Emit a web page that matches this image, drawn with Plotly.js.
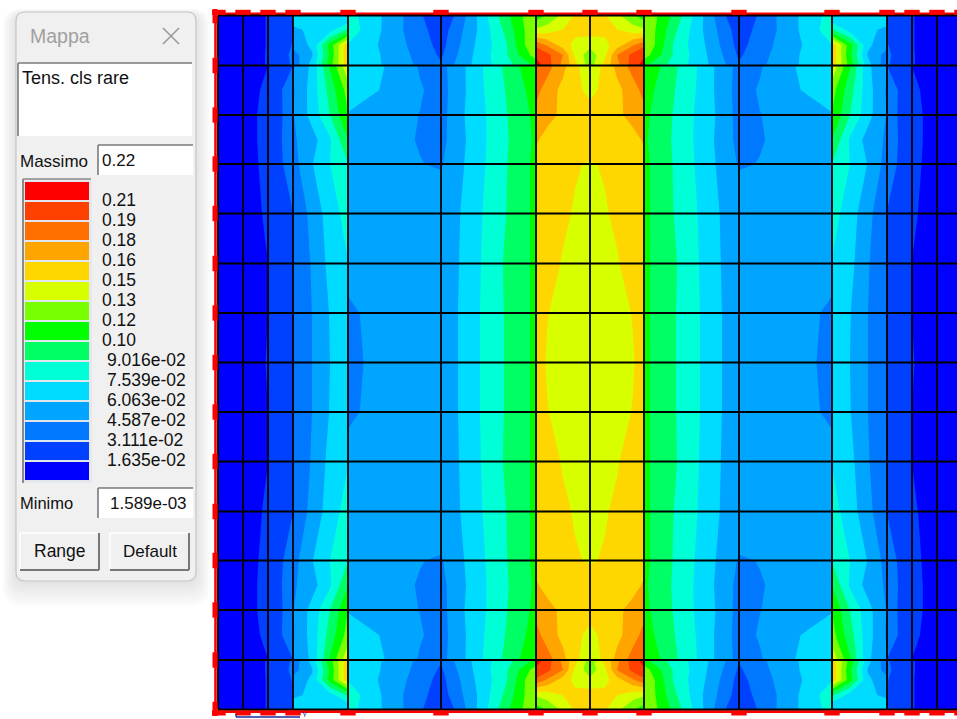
<!DOCTYPE html>
<html><head><meta charset="utf-8">
<script src="https://cdn.plot.ly/plotly-3.0.1.min.js"></script>
<style>html,body{margin:0;padding:0;background:#fff;overflow:hidden}#chart{width:957px;height:719px}</style>
</head><body><div id="chart"></div>
<script>
// Mesh lines of the slab
const meshX = [218,243,268,293,348,441,536,590,644,739,832,887,912,937,962];
const meshY = [15.5,65.5,115,164,213.5,263.5,313,362.5,412,461.5,511.5,560.5,610,660,709.5];

// Sample columns of the left half; pairs 292.9/293.1, 347.9/348.1, 535.9/536.1 carry jumps across element edges
const sampleX = [218,243,256,268,280,292.9,293.1,312,330,347.9,348.1,395,420,441,458,480,504,530,535.9,536.1,547,563,575,590];
const sampleY = [15.5,30,45,55,65.3,65.7,90,115,140,164,213.5,263.5,313,362.5];

const r015 = [.0060,.0090,.0134,.0171,.0252,.0304,.0651,.0665,.0651,.0577,.0813,.0525,.0333,.0178,.0348,.0651,.0983,.1285,.1337,.1108,.1212,.1381,.1507,.1580];
const r030 = [.0060,.0090,.0134,.0171,.0252,.0308,.0591,.0621,.0695,.0931,.0842,.0510,.0355,.0237,.0407,.0636,.0916,.1271,.1344,.1374,.1418,.1499,.1536,.1566];
const r045 = [.0075,.0104,.0134,.0171,.0252,.0318,.0503,.0636,.1108,.1595,.0747,.0525,.0385,.0259,.0437,.0658,.0850,.1278,.1337,.1905,.1772,.1566,.1448,.1388];
const r055 = [.0075,.0119,.0141,.0171,.0252,.0341,.0400,.0591,.1079,.1625,.0754,.0540,.0407,.0289,.0466,.0673,.0857,.1197,.1285,.2053,.1979,.1787,.1462,.1256];
const r065a = [.0075,.0119,.0141,.0171,.0252,.0326,.0355,.0665,.1138,.1580,.0754,.0547,.0429,.0326,.0503,.0673,.0835,.1020,.1079,.2156,.2009,.1743,.1551,.1271];
const r065b = [.0075,.0119,.0141,.0163,.0237,.0311,.0459,.0636,.1064,.1462,.0739,.0569,.0444,.0414,.0540,.0732,.0916,.1138,.1212,.1920,.1846,.1684,.1521,.1418];
const r090 = [.0075,.0119,.0149,.0193,.0296,.0392,.0444,.0665,.0960,.1256,.0724,.0547,.0473,.0400,.0540,.0724,.0894,.1079,.1182,.1831,.1728,.1595,.1536,.1448];
const r115 = [.0075,.0127,.0159,.0208,.0289,.0400,.0451,.0658,.0902,.1189,.0591,.0503,.0456,.0400,.0562,.0710,.0879,.1049,.1123,.1743,.1684,.1610,.1566,.1551];
const r140 = [.0075,.0127,.0159,.0208,.0296,.0400,.0437,.0547,.0732,.1042,.0532,.0488,.0451,.0414,.0547,.0710,.0872,.1034,.1079,.1654,.1595,.1566,.1551,.1536];
const r164 = [.0075,.0119,.0156,.0193,.0289,.0385,.0400,.0599,.0754,.0894,.0518,.0503,.0463,.0444,.0562,.0717,.0879,.1049,.1093,.1595,.1566,.1521,.1499,.1485];
const r214 = [.0075,.0112,.0149,.0178,.0237,.0308,.0326,.0503,.0680,.0813,.0503,.0532,.0547,.0562,.0591,.0739,.0887,.1049,.1093,.1580,.1551,.1507,.1485,.1462];
const r264 = [.0075,.0104,.0141,.0163,.0237,.0304,.0311,.0473,.0651,.0747,.0488,.0518,.0532,.0555,.0599,.0747,.0909,.1049,.1093,.1566,.1529,.1485,.1462,.1448];
const r313 = [.0075,.0104,.0134,.0163,.0237,.0304,.0304,.0459,.0614,.0732,.0444,.0503,.0518,.0547,.0606,.0754,.0902,.1049,.1093,.1551,.1496,.1462,.1448,.1433];
const r362 = [.0075,.0104,.0134,.0171,.0237,.0304,.0304,.0459,.0606,.0724,.0437,.0503,.0518,.0547,.0606,.0754,.0902,.1049,.1093,.1536,.1485,.1448,.1433,.1425];
const halfRows = [r015,r030,r045,r055,r065a,r065b,r090,r115,r140,r164,r214,r264,r313,r362];

// Colour classes, low to high, and the class limits written in the panel
const bandColors = ['#0000ff','#0040ff','#0078ff','#00a5ff','#00dcff','#00ffd7','#00ff64','#00ff00','#78ff00','#d7ff00','#ffd700','#ffa500','#ff7000','#ff4000','#ff0000'];
const legendLabels = ['0.21','0.19','0.18','0.16','0.15','0.13','0.12','0.10','9.016e-02','7.539e-02','6.063e-02','4.587e-02','3.111e-02','1.635e-02'];
const firstLimit = 0.01635, limitStep = 0.01476, minimo = 0.001589, massimo = 0.223;

// The slab is symmetric about its two centre lines
const allX = sampleX.concat(sampleX.slice(0,-1).reverse().map(v => 1180 - v));
const allY = sampleY.concat(sampleY.slice(0,-1).reverse().map(v => 725 - v));
const fullRow = r => r.concat(r.slice(0,-1).reverse());
const allZ = halfRows.concat(halfRows.slice(0,-1).reverse()).map(fullRow);

const colorscale = bandColors.map((c,i) => [i/(bandColors.length-1), c]);

const meshLX = [], meshLY = [];
meshX.forEach(x => { meshLX.push(x,x,null); meshLY.push(meshY[0],meshY[meshY.length-1],null); });
meshY.forEach(y => { meshLX.push(meshX[0],meshX[meshX.length-1],null); meshLY.push(y,y,null); });

const traces = [
 {type:'contour',x:allX,y:allY,z:allZ,autocontour:false,zmin:minimo,zmax:massimo,
  contours:{start:firstLimit,end:firstLimit+13.02*limitStep,size:limitStep,coloring:'fill',showlines:false},
  line:{width:0,smoothing:0},colorscale:colorscale,showscale:false,hoverinfo:'skip'},
 {type:'scatter',mode:'lines',x:[964,215.5,215.5,964],y:[13.8,13.8,711.6,711.6],line:{color:'#ff0000',width:2.6},hoverinfo:'skip'},
 {type:'scatter',mode:'lines',x:meshLX,y:meshLY,line:{color:'#000000',width:1.8},connectgaps:false,hoverinfo:'skip'},
 {type:'scatter',mode:'markers',x:meshX,y:meshX.map(()=>12.3),marker:{symbol:'line-ew',size:11,line:{color:'#ff0000',width:5}},hoverinfo:'skip'},
 {type:'scatter',mode:'markers',x:meshX,y:meshX.map(()=>713),marker:{symbol:'line-ew',size:11,line:{color:'#ff0000',width:5}},hoverinfo:'skip'},
 {type:'scatter',mode:'markers',x:meshY.map(()=>215),y:meshY,marker:{symbol:'line-ns',size:11,line:{color:'#ff0000',width:5}},hoverinfo:'skip'},
 {type:'heatmap',xaxis:'x3',yaxis:'y3',x:[0],y:bandColors.map((c,i)=>i),z:bandColors.map((c,i)=>[i]),zmin:0,zmax:14,
  colorscale:colorscale,showscale:false,ygap:2,hoverinfo:'skip'}
];

const P = {xref:'x2',yref:'y2'};
const rect = (x0,y0,x1,y1,fill,line,w) => Object.assign({type:'rect',x0,y0,x1,y1,fillcolor:fill||'rgba(0,0,0,0)',line:{color:line||'rgba(0,0,0,0)',width:w||0},layer:'below'},P);
const seg = (x0,y0,x1,y1,c,w) => Object.assign({type:'line',x0,y0,x1,y1,line:{color:c,width:w},layer:'below'},P);
const rounded = (x0,y0,x1,y1,r) => `M${x0+r},${y0} L${x1-r},${y0} Q${x1},${y0} ${x1},${y0+r} L${x1},${y1-r} Q${x1},${y1} ${x1-r},${y1} L${x0+r},${y1} Q${x0},${y1} ${x0},${y1-r} L${x0},${y0+r} Q${x0},${y0} ${x0+r},${y0} Z`;
const shapes = [];
for (let i=9;i>=1;i--) {
  shapes.push(Object.assign({type:'path',path:rounded(16-i*1.5,14-i*0.6,196+i*1.6,581+i*2.9,10+i),fillcolor:'rgba(0,0,0,0.011)',line:{width:0},layer:'below'},P));
}
shapes.push(Object.assign({type:'path',path:rounded(16,12,196,581,9),fillcolor:'#f0f0f0',line:{color:'#c6c6c6',width:1.2},layer:'below'},P));
// close cross
shapes.push(seg(163,28,179,44,'#9a9a9a',1.6), seg(179,28,163,44,'#9a9a9a',1.6));
// input boxes
const box = (x0,y0,x1,y1) => { shapes.push(rect(x0,y0,x1,y1,'#ffffff')); shapes.push(seg(x0,y0,x1,y0,'#7a7a7a',1.6), seg(x0,y0,x0,y1,'#7a7a7a',1.6)); };
box(18,63,192,136); box(98,145,193,175); box(98,488,193,518);
// legend frame
shapes.push(rect(23,179,92,483,'#e6e8ee'));
shapes.push(seg(23,179,91,179,'#8a8a8a',1.6), seg(23,179,23,483,'#8a8a8a',2));
shapes.push(rect(25,181,89,481,'#dfe6ee'));
// buttons
const button = (x0,y0,x1,y1) => { shapes.push(rect(x0,y0,x1,y1,'#f0f0f0'));
  shapes.push(seg(x0,y0,x1,y0,'#ffffff',1.4), seg(x0,y0,x0,y1,'#ffffff',1.4), seg(x0,y1,x1,y1,'#777777',2), seg(x1,y0,x1,y1,'#777777',2)); };
button(20,533,99,570); button(110,533,189,570);
// global axis glyph peeking below the frame
shapes.push(seg(236,717,300,717,'#1c2a9c',1.6), seg(236,714,236,717,'#1c2a9c',1.2));

const T = (x,y,text,size,color,anchor) => Object.assign({x,y,text,showarrow:false,xanchor:anchor||'left',yanchor:'middle',
   font:{family:'"Liberation Sans",Arial,sans-serif',size:size,color:color||'#111111'},borderpad:0,borderwidth:0},P);
const annotations = [
  T(30,36,'Mappa',19.5,'#a0a0a0'),
  T(22,78,'Tens. cls rare',18),
  T(20,161,'Massimo',17),
  T(102,160,'0.22',17),
  T(20,503,'Minimo',16.5),
  T(187,503,'1.589e-03',17,'#111111','right'),
  T(60,551,'Range',17.5,'#111111','center'),
  T(150,551,'Default',17,'#111111','center'),
  T(302,714,'Y',8,'#1c2a9c')
];
legendLabels.forEach((t,i) => annotations.push(T(t.length>5?107:102, 199.5+20*i, t, 17.5)));

const hidden = {visible:false,fixedrange:true};
const layout = {
  width:957,height:719,margin:{l:0,r:0,t:0,b:0,pad:0},paper_bgcolor:'#ffffff',plot_bgcolor:'rgba(0,0,0,0)',showlegend:false,
  xaxis:Object.assign({domain:[212/957,1],range:[212,957]},hidden),
  yaxis:Object.assign({domain:[1-716/719,1-9/719],range:[716,9]},hidden),
  xaxis2:Object.assign({domain:[0,1],range:[0,957],anchor:'y2'},hidden),
  yaxis2:Object.assign({domain:[0,1],range:[719,0],anchor:'x2'},hidden),
  xaxis3:Object.assign({domain:[25/957,89/957],range:[-0.5,0.5],anchor:'y3'},hidden),
  yaxis3:Object.assign({domain:[1-481/719,1-181/719],range:[-0.5,14.5],anchor:'x3'},hidden),
  shapes:shapes,annotations:annotations
};
Plotly.newPlot('chart',traces,layout,{staticPlot:true,displayModeBar:false});
</script></body></html>
